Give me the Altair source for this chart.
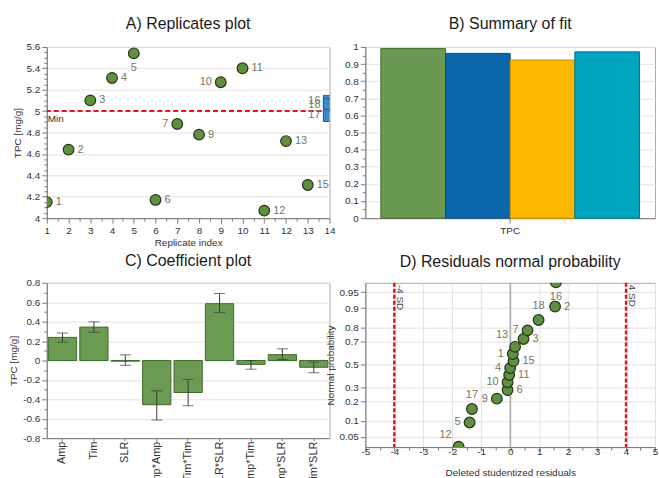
import altair as alt
import pandas as pd
from statistics import NormalDist

# ---------------- A) Replicates plot ----------------
rep_index = [1, 2, 3, 4, 5, 6, 7, 8, 9, 10, 11, 12, 13, 14, 14, 14]
rep_value = [4.15, 4.64, 5.10, 5.31, 5.54, 4.17, 4.88, 4.78, 5.27, 5.40, 4.07, 4.72, 4.31, 5.09, 5.06, 4.96]
rep_label = ["1", "2", "3", "4", "5", "6", "7", "9", "10", "11", "12", "13", "15", "16", "18", "17"]
rep_kind = ["run"] * 13 + ["center"] * 3
rep_min = [5.0]
rep_xticks = list(range(1, 15))
rep_yticks = [4, 4.2, 4.4, 4.6, 4.8, 5, 5.2, 5.4, 5.6]

# ---------------- B) Summary of fit ----------------
fit_response = ["TPC", "TPC", "TPC", "TPC"]
fit_measure = ["R2", "Q2", "Model validity", "Reproducibility"]
fit_value = [0.99, 0.962, 0.923, 0.971]
fit_yticks = [0, 0.1, 0.2, 0.3, 0.4, 0.5, 0.6, 0.7, 0.8, 0.9, 1]

# ---------------- C) Coefficient plot ----------------
coef_term = ["Amp", "Tim", "SLR", "Amp*Amp", "Tim*Tim", "SLR*SLR", "Amp*Tim", "Amp*SLR", "Tim*SLR"]
coef_value = [0.238, 0.344, -0.007, -0.456, -0.33, 0.585, -0.04, 0.06, -0.07]
coef_low = [0.19, 0.29, -0.05, -0.613, -0.466, 0.494, -0.09, 0.01, -0.126]
coef_high = [0.283, 0.398, 0.058, -0.313, -0.194, 0.69, 0.0, 0.12, -0.017]
coef_yticks = [-0.8, -0.6, -0.4, -0.2, 0, 0.2, 0.4, 0.6, 0.8]

# ---------------- D) Residuals normal probability ----------------
res_value = [-1.78, -1.40, -1.32, -0.46, -0.09, -0.09, -0.035, 0.0, 0.115, 0.09, 0.17, 0.46, 0.60, 0.98, 1.55, 1.58]
res_prob = [0.031, 0.094, 0.156, 0.219, 0.281, 0.344, 0.406, 0.469, 0.531, 0.594, 0.656, 0.719, 0.781, 0.844, 0.906, 0.969]
res_label = ["12", "5", "17", "9", "6", "10", "11", "4", "15", "1", "13", "3", "7", "18", "2", "16"]
res_xticks = [-5, -4, -3, -2, -1, 0, 1, 2, 3, 4, 5]
res_prob_ticks = [0.05, 0.1, 0.2, 0.3, 0.5, 0.7, 0.8, 0.9, 0.95]
sd_limits = [-4, 4]
sd_text = ["-4 SD", "4 SD"]

# minor tick positions (axis decoration only)
minorA_x = [i + 0.5 for i in range(1, 14)]
minorA_y = [round(4 + 0.05 * i, 2) for i in range(33) if i % 4]
minorB_y = [round(0.05 + 0.1 * i, 2) for i in range(10)]
minorC_y = [round(-0.7 + 0.2 * i, 2) for i in range(8)]
minorD_x = [i + 0.5 for i in range(-5, 5)]

# ---------------- styles ----------------
FONT = "Liberation Sans"
GREEN = "#5f8f3f"
GREEN_EDGE = "#24361a"
BAR_GREEN = "#6b9a52"
BAR_GREEN_EDGE = "#3e6a2c"
LABEL_COLOR = "#6f7a66"
RED = "#e3141b"
fit_colors = ["#6a9a52", "#0b66ab", "#fcb900", "#00a5bf"]
fit_edges = ["#3e6a2c", "#0a4f86", "#c98f00", "#00798c"]
MINUS = "replace(format(datum.value, '{fmt}'), '\u2212', '-')"

OFFSETS = {
    "right": dict(dx=9, dy=0, align="left"),
    "left": dict(dx=-9, dy=0, align="right"),
    "above": dict(dx=0, dy=-14, align="center"),
    "below": dict(dx=0, dy=15, align="center"),
    "aboveleft": dict(dx=-7, dy=-12, align="right"),
}
A_SIDE = {"5": "below", "7": "left", "10": "left", "16": "left", "18": "left", "17": "left"}
D_SIDE = {"12": "aboveleft", "5": "left", "17": "above", "9": "left", "6": "right", "10": "left",
          "11": "right", "4": "left", "15": "right", "1": "left", "13": "aboveleft", "3": "right",
          "7": "left", "18": "above", "2": "right", "16": "below"}


def title(text, offset):
    return alt.TitleParams(text, fontSize=16, font=FONT, fontWeight="normal", color="#1a1a1a",
                           anchor="middle", offset=offset)


def label_layers(df, x, y, sides, calc=None):
    layers = []
    df = df.copy()
    df["side"] = [sides.get(l, "right") for l in df["label"]]
    for side, o in OFFSETS.items():
        sub = df[df["side"] == side]
        if len(sub) == 0:
            continue
        ch = alt.Chart(sub)
        if calc:
            ch = ch.transform_calculate(**calc)
        layers.append(
            ch.mark_text(fontSize=11, font=FONT, color=LABEL_COLOR, baseline="middle",
                         dx=o["dx"], dy=o["dy"], align=o["align"])
            .encode(x=x, y=y, text="label:N")
        )
    return layers


def minor_axis(values, orient):
    return alt.Axis(orient=orient, values=values, labels=False, domain=False, grid=False,
                    ticks=True, tickSize=3, title=None)


def minor_y(values, scale):
    return alt.Chart(pd.DataFrame({"m": values})).mark_point(opacity=0).encode(
        y=alt.Y("m:Q", scale=scale, axis=minor_axis(values, "left")))


def minor_x(values, scale):
    return alt.Chart(pd.DataFrame({"m": values})).mark_point(opacity=0).encode(
        x=alt.X("m:Q", scale=scale, axis=minor_axis(values, "bottom")))


# ---------- Panel A ----------
dfA = pd.DataFrame({"idx": rep_index, "tpc": rep_value, "label": rep_label, "kind": rep_kind})
scAx = alt.Scale(domain=[1, 14], nice=False, zero=False)
scAy = alt.Scale(domain=[4, 5.6], nice=False, zero=False)
axAx = alt.Axis(orient="bottom", values=rep_xticks, format="d", title="Replicate index", grid=False,
                titlePadding=2, labelOverlap=False, labelFlush=False)
axAy = alt.Axis(orient="left", values=rep_yticks, format="~g", title="TPC [mg/g]", grid=True,
                labelOverlap=False, labelFlush=False)
xA = alt.X("idx:Q", scale=scAx, axis=axAx)
yA = alt.Y("tpc:Q", scale=scAy, axis=axAy)

baseA = alt.Chart(dfA)
minA = pd.DataFrame({"v": rep_min, "t": ["Min"]})
ruleA = alt.Chart(minA).mark_rule(color=RED, strokeDash=[5, 3], strokeWidth=2).encode(
    y=alt.Y("v:Q", scale=scAy, axis=axAy))
minTextA = alt.Chart(minA).mark_text(align="left", baseline="top", dx=1, dy=3, fontSize=10, font=FONT,
                                     color="#333").encode(
    x=alt.value(0), y=alt.Y("v:Q", scale=scAy, axis=axAy), text="t:N")
ptsA = baseA.transform_filter("datum.kind == 'run'").mark_circle(
    size=115, clip=True, color=GREEN, stroke=GREEN_EDGE, strokeWidth=1.2, opacity=1).encode(x=xA, y=yA)
sqA = baseA.transform_filter("datum.kind == 'center'").mark_square(
    size=150, clip=True, color="#4186c6", stroke="#1b5b9c", strokeWidth=1, opacity=1).encode(x=xA, y=yA)
labsA = label_layers(dfA, xA, yA, A_SIDE)
mainA = alt.layer(ptsA, ruleA, minTextA, sqA, *labsA)
A = alt.layer(mainA, minor_y(minorA_y, scAy), minor_x(minorA_x, scAx)).resolve_axis(
    x="independent", y="independent").properties(
    width=284, height=172, title=title("A) Replicates plot", 10))

# ---------- Panel B ----------
dfB = pd.DataFrame({"resp": fit_response, "measure": fit_measure, "value": fit_value})
scBy = alt.Scale(domain=[0, 1], nice=False)
barsB = alt.Chart(dfB).mark_bar(strokeWidth=1).encode(
    x=alt.X("resp:N", scale=alt.Scale(paddingInner=0, paddingOuter=0.06),
            axis=alt.Axis(title=None, labelAngle=0, grid=False)),
    xOffset=alt.XOffset("measure:N", sort=fit_measure, scale=alt.Scale(paddingInner=0, paddingOuter=0)),
    y=alt.Y("value:Q", scale=scBy,
            axis=alt.Axis(orient="left", values=fit_yticks, format="~g", title=None, grid=True,
                          labelOverlap=False, labelFlush=False)),
    color=alt.Color("measure:N", sort=fit_measure,
                    scale=alt.Scale(domain=fit_measure, range=fit_colors), legend=None),
    stroke=alt.Stroke("measure:N", sort=fit_measure,
                      scale=alt.Scale(domain=fit_measure, range=fit_edges), legend=None),
)
B = alt.layer(barsB, minor_y(minorB_y, scBy)).resolve_axis(y="independent").properties(
    width=291, height=172, title=title("B) Summary of fit", 10))

# ---------- Panel C ----------
dfC = pd.DataFrame({"term": coef_term, "coef": coef_value, "lo": coef_low, "hi": coef_high})
scCy = alt.Scale(domain=[-0.8, 0.8], nice=False)
axCy = alt.Axis(orient="left", values=coef_yticks, title="TPC [mg/g]", grid=True, labelOverlap=False,
                labelFlush=False, labelExpr=MINUS.format(fmt=".1~f"))
xC = alt.X("term:N", sort=coef_term, scale=alt.Scale(paddingInner=0.1, paddingOuter=0.05),
           axis=alt.Axis(title=None, labelAngle=-90, grid=False, labelFontSize=11, tickSize=3,
                         labelPadding=0))
yC = alt.Y("coef:Q", scale=scCy, axis=axCy)
baseC = alt.Chart(dfC)
barsC = baseC.mark_bar(color=BAR_GREEN, stroke=BAR_GREEN_EDGE, strokeWidth=1).encode(x=xC, y=yC)
errC = baseC.mark_rule(color="#3a3a3a", strokeWidth=1).encode(
    x=xC, y=alt.Y("lo:Q", scale=scCy, axis=axCy), y2="hi:Q")
capLoC = baseC.mark_tick(color="#3a3a3a", size=11, thickness=1).encode(
    x=xC, y=alt.Y("lo:Q", scale=scCy, axis=axCy))
capHiC = baseC.mark_tick(color="#3a3a3a", size=11, thickness=1).encode(
    x=xC, y=alt.Y("hi:Q", scale=scCy, axis=axCy))
mainC = alt.layer(barsC, errC, capLoC, capHiC)
C = alt.layer(mainC, minor_y(minorC_y, scCy)).resolve_axis(y="independent").properties(
    width=284, height=156, title=title("C) Coefficient plot", 9))

# ---------- Panel D ----------
dfD = pd.DataFrame({"res": res_value, "p": res_prob, "label": res_label})
z_ticks = [NormalDist().inv_cdf(p) for p in res_prob_ticks]
scDx = alt.Scale(domain=[-5, 5], nice=False)
scDy = alt.Scale(domain=[-1.875, 1.855], nice=False, zero=False)
axDx = alt.Axis(orient="bottom", values=res_xticks, title="Deleted studentized residuals", grid=True,
                labelExpr=MINUS.format(fmt="d"), tickSize=4, labelPadding=-5, titlePadding=12,
                labelOverlap=False, labelFlush=False)
axDy = alt.Axis(orient="left", values=z_ticks, title="Normal probability", grid=True, labelOverlap=False,
                labelFlush=False, labelExpr="format(cumulativeNormal(datum.value), '.2~f')")
xD = alt.X("res:Q", scale=scDx, axis=axDx)
yD = alt.Y("z:Q", scale=scDy, axis=axDy)
calcD = {"z": "quantileNormal(datum.p)"}
baseD = alt.Chart(dfD).transform_calculate(**calcD)
zeroD = alt.Chart(pd.DataFrame({"v": [0]})).mark_rule(color="#8a8a8a", strokeWidth=1).encode(
    x=alt.X("v:Q", scale=scDx, axis=axDx))
sdDf = pd.DataFrame({"v": sd_limits, "t": sd_text})
sdRule = alt.Chart(sdDf).mark_rule(color=RED, strokeDash=[4, 2], strokeWidth=2.5).encode(
    x=alt.X("v:Q", scale=scDx, axis=axDx))
sdText = alt.Chart(sdDf).mark_text(angle=90, align="left", baseline="bottom", dx=2, dy=-1,
                                   fontSize=10, font=FONT, color="#444").encode(
    x=alt.X("v:Q", scale=scDx, axis=axDx), y=alt.value(0), text="t:N")
ptsD = baseD.mark_circle(size=115, clip=True, color=GREEN, stroke=GREEN_EDGE, strokeWidth=1.2,
                         opacity=1).encode(x=xD, y=yD)
labsD = label_layers(dfD, xD, yD, D_SIDE, calc=calcD)
mainD = alt.layer(zeroD, sdRule, sdText, ptsD, *labsD)
D = alt.layer(mainD, minor_x(minorD_x, scDx)).resolve_axis(x="independent").properties(
    width=291, height=165, title=title("D) Residuals normal probability", 12))

chart = alt.concat(A, B, C, D, columns=2, spacing={"row": 65, "column": 36}, bounds="flush").properties(
    padding={"left": 8, "top": 14, "right": 0, "bottom": 0}
).configure(font=FONT).configure_axis(
    labelFont=FONT, labelFontSize=10, labelColor="#333", titleFont=FONT, titleFontSize=10,
    titleFontWeight="normal", titleColor="#333", gridColor="#e2e2e2", domainColor="#7a7a7a",
    tickColor="#7a7a7a", tickSize=5, labelPadding=2, titlePadding=4,
    labelOverlap=False, labelFlush=False
).configure_view(stroke="#a8a8a8")

chart.save("out.html", embed_options={"renderer": "svg", "actions": False})
